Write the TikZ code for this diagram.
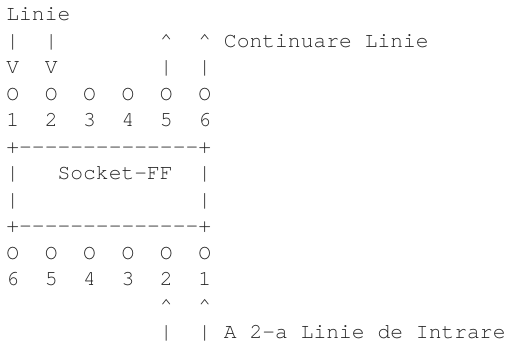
\documentclass[tikz,border=0pt]{standalone}
\usepackage{fontspec}
\setmonofont{TeX Gyre Cursor}
\begin{document}
\begin{tikzpicture}[x=9.6pt, y=-19.875pt,
  every node/.style={font=\ttfamily\fontsize{16pt}{16pt}\selectfont,
    inner sep=0pt, outer sep=0pt, anchor=base west, text=black!85}]
\useasboundingbox (0,0) rectangle (39.61,13.094);
\begin{scope}[shift={(0.5,0.78)}]
  % incoming line, top side
  \node (title) at (0,0) {Linie};
  \node (inA1) at (0,1) {|};
  \node (inB1) at (3,1) {|};
  \node (inA2) at (0,2) {V};
  \node (inB2) at (3,2) {V};
  % continuing line, top side
  \node (outA1) at (12,1) {\textasciicircum};
  \node (outB1) at (15,1) {\textasciicircum};
  \node (outlbl) at (17,1) {Continuare Linie};
  \node (outA2) at (12,2) {|};
  \node (outB2) at (15,2) {|};
  % upper pin row
  \foreach \i [count=\k from 0] in {1,...,6} {
    \node (tpin\i) at (3*\k,3) {O};
    \node (tnum\i) at (3*\k,4) {\i};
  }
  % socket body
  \node (boxtop) at (0,5) {+--------------+};
  \node (boxl1)  at (0,6) {|};
  \node (name)   at (4,6) {Socket-FF};
  \node (boxr1)  at (15,6) {|};
  \node (boxl2)  at (0,7) {|};
  \node (boxr2)  at (15,7) {|};
  \node (boxbot) at (0,8) {+--------------+};
  % lower pin row
  \foreach \i [count=\k from 0] in {6,5,...,1} {
    \node (bpin\i) at (3*\k,9) {O};
    \node (bnum\i) at (3*\k,10) {\i};
  }
  % second incoming line, bottom side
  \node (inC1) at (12,11) {\textasciicircum};
  \node (inD1) at (15,11) {\textasciicircum};
  \node (inC2) at (12,12) {|};
  \node (inD2) at (15,12) {|};
  \node (inlbl) at (17,12) {A 2-a Linie de Intrare};
\end{scope}
\end{tikzpicture}
\end{document}
